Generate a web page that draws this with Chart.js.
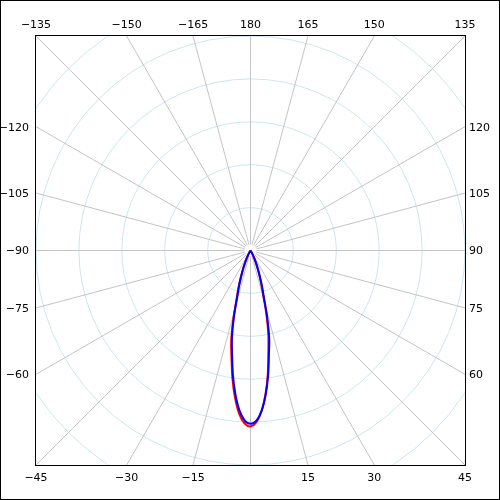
<!DOCTYPE html>
<html>
<head>
<meta charset="utf-8">
<script src="https://cdn.jsdelivr.net/npm/chart.js@4"></script>
<style>
  html, body { margin: 0; padding: 0; background: #fff; }
  #wrap { width: 500px; height: 500px; position: relative; }
</style>
</head>
<body>
<div id="wrap"><canvas id="polar" width="500" height="500"></canvas></div>
<script>
// Angles in degrees (0 = down, 90 = right, 180 = up), radius in grid-ring units
const angles = [-40, -30, -28, -26, -24, -22, -20, -18, -16, -14, -12, -10, -8, -6, -4, -2, 0,
  2, 4, 6, 8, 10, 12, 14, 16, 18, 20, 22, 24, 26, 28, 30, 40];
const redValues = [0, 0.07, 0.13, 0.21, 0.32, 0.47, 0.66, 0.9, 1.18, 1.67, 2.16, 2.55, 3.02, 3.45, 3.81, 4.03, 4.1,
  4.0, 3.74, 3.36, 2.9, 2.4, 2.0, 1.53, 1.06, 0.8, 0.58, 0.41, 0.28, 0.18, 0.11, 0.05, 0];
const blueValues = [0, 0.06, 0.12, 0.2, 0.3, 0.44, 0.62, 0.85, 1.12, 1.6, 2.08, 2.47, 2.94, 3.37, 3.73, 3.96, 4.04,
  3.97, 3.74, 3.38, 2.95, 2.47, 2.1, 1.61, 1.13, 0.86, 0.63, 0.45, 0.31, 0.2, 0.12, 0.06, 0];

const ringValues = [1, 2, 3, 4, 5, 6, 7];
const spokeAngles = [-165, -150, -135, -120, -105, -90, -75, -60, -45, -30, -15, 0,
  15, 30, 45, 60, 75, 90, 105, 120, 135, 150, 165, 180];
const angleLabels = [180, -165, -150, -135, -120, -105, -90, -75, -60, -45, -30, -15,
  15, 30, 45, 60, 75, 90, 105, 120, 135, 150, 165];

const rad = (d) => (d * Math.PI) / 180;

// polar -> chart x/y (y up)
function toXY(values) {
  return angles.map((a, i) => ({
    x: values[i] * Math.sin(rad(a)),
    y: -values[i] * Math.cos(rad(a)),
  }));
}

const fmt = (v) => (v < 0 ? "\u2212" + Math.abs(v) : String(v));

const polarGrid = {
  id: "polarGrid",
  beforeDatasetsDraw(chart) {
    const { ctx, chartArea, scales } = chart;
    const cx = scales.x.getPixelForValue(0);
    const cy = scales.y.getPixelForValue(0);
    const unit = scales.x.getPixelForValue(1) - cx;

    ctx.save();
    ctx.beginPath();
    ctx.rect(chartArea.left, chartArea.top, chartArea.right - chartArea.left, chartArea.bottom - chartArea.top);
    ctx.clip();

    ctx.lineWidth = 1;
    ctx.strokeStyle = "#cce6ee";
    ringValues.forEach((r) => {
      ctx.beginPath();
      ctx.arc(cx, cy, r * unit, 0, Math.PI * 2);
      ctx.stroke();
    });

    ctx.strokeStyle = "#c4c4c4";
    spokeAngles.forEach((a) => {
      const dx = Math.sin(rad(a));
      const dy = Math.cos(rad(a));
      ctx.beginPath();
      ctx.moveTo(cx + dx * 6, cy + dy * 6);
      ctx.lineTo(cx + dx * 400, cy + dy * 400);
      ctx.stroke();
    });
    ctx.restore();
  },
  afterDraw(chart) {
    const { ctx, chartArea, scales } = chart;
    const cx = scales.x.getPixelForValue(0);
    const cy = scales.y.getPixelForValue(0);
    const half = chartArea.right - cx;

    ctx.save();
    ctx.strokeStyle = "#000";
    ctx.lineWidth = 1;
    ctx.strokeRect(35.5, 35.5, 430, 430);
    ctx.strokeRect(0.5, 0.5, chart.width - 1, chart.height - 1);

    ctx.fillStyle = "#000";
    ctx.font = "11px 'DejaVu Sans'";
    ctx.textBaseline = "middle";
    angleLabels.forEach((a) => {
      const dx = Math.sin(rad(a));
      const dy = Math.cos(rad(a));
      const text = fmt(a);
      if (Math.abs(dy) >= Math.abs(dx) - 1e-9) {
        const x = cx + (dx / Math.abs(dy)) * half;
        ctx.textAlign = "center";
        ctx.fillText(text, x, dy < 0 ? chartArea.top - 11 : chartArea.bottom + 13);
      } else {
        const y = cy + (dy / Math.abs(dx)) * half;
        if (dx < 0) {
          ctx.textAlign = "right";
          ctx.fillText(text, chartArea.left - 7, y + 1);
        } else {
          ctx.textAlign = "left";
          ctx.fillText(text, chartArea.right + 4, y + 1);
        }
      }
    });
    ctx.restore();
  },
};

new Chart(document.getElementById("polar").getContext("2d"), {
  type: "scatter",
  data: {
    datasets: [
      { label: "red", data: toXY(redValues), order: 2, showLine: true, borderColor: "#ff0000", borderWidth: 2, pointRadius: 0, tension: 0.3 },
      { label: "blue", data: toXY(blueValues), order: 1, showLine: true, borderColor: "#0000ff", borderWidth: 2, pointRadius: 0, tension: 0.3 },
    ],
  },
  options: {
    responsive: false,
    animation: false,
    layout: { padding: { left: 36, top: 36, right: 35, bottom: 35 } },
    plugins: { legend: { display: false }, tooltip: { enabled: false } },
    scales: {
      x: { type: "linear", min: -5, max: 5, display: false },
      y: { type: "linear", min: -5, max: 5, display: false },
    },
  },
  plugins: [polarGrid],
});
</script>
</body>
</html>
